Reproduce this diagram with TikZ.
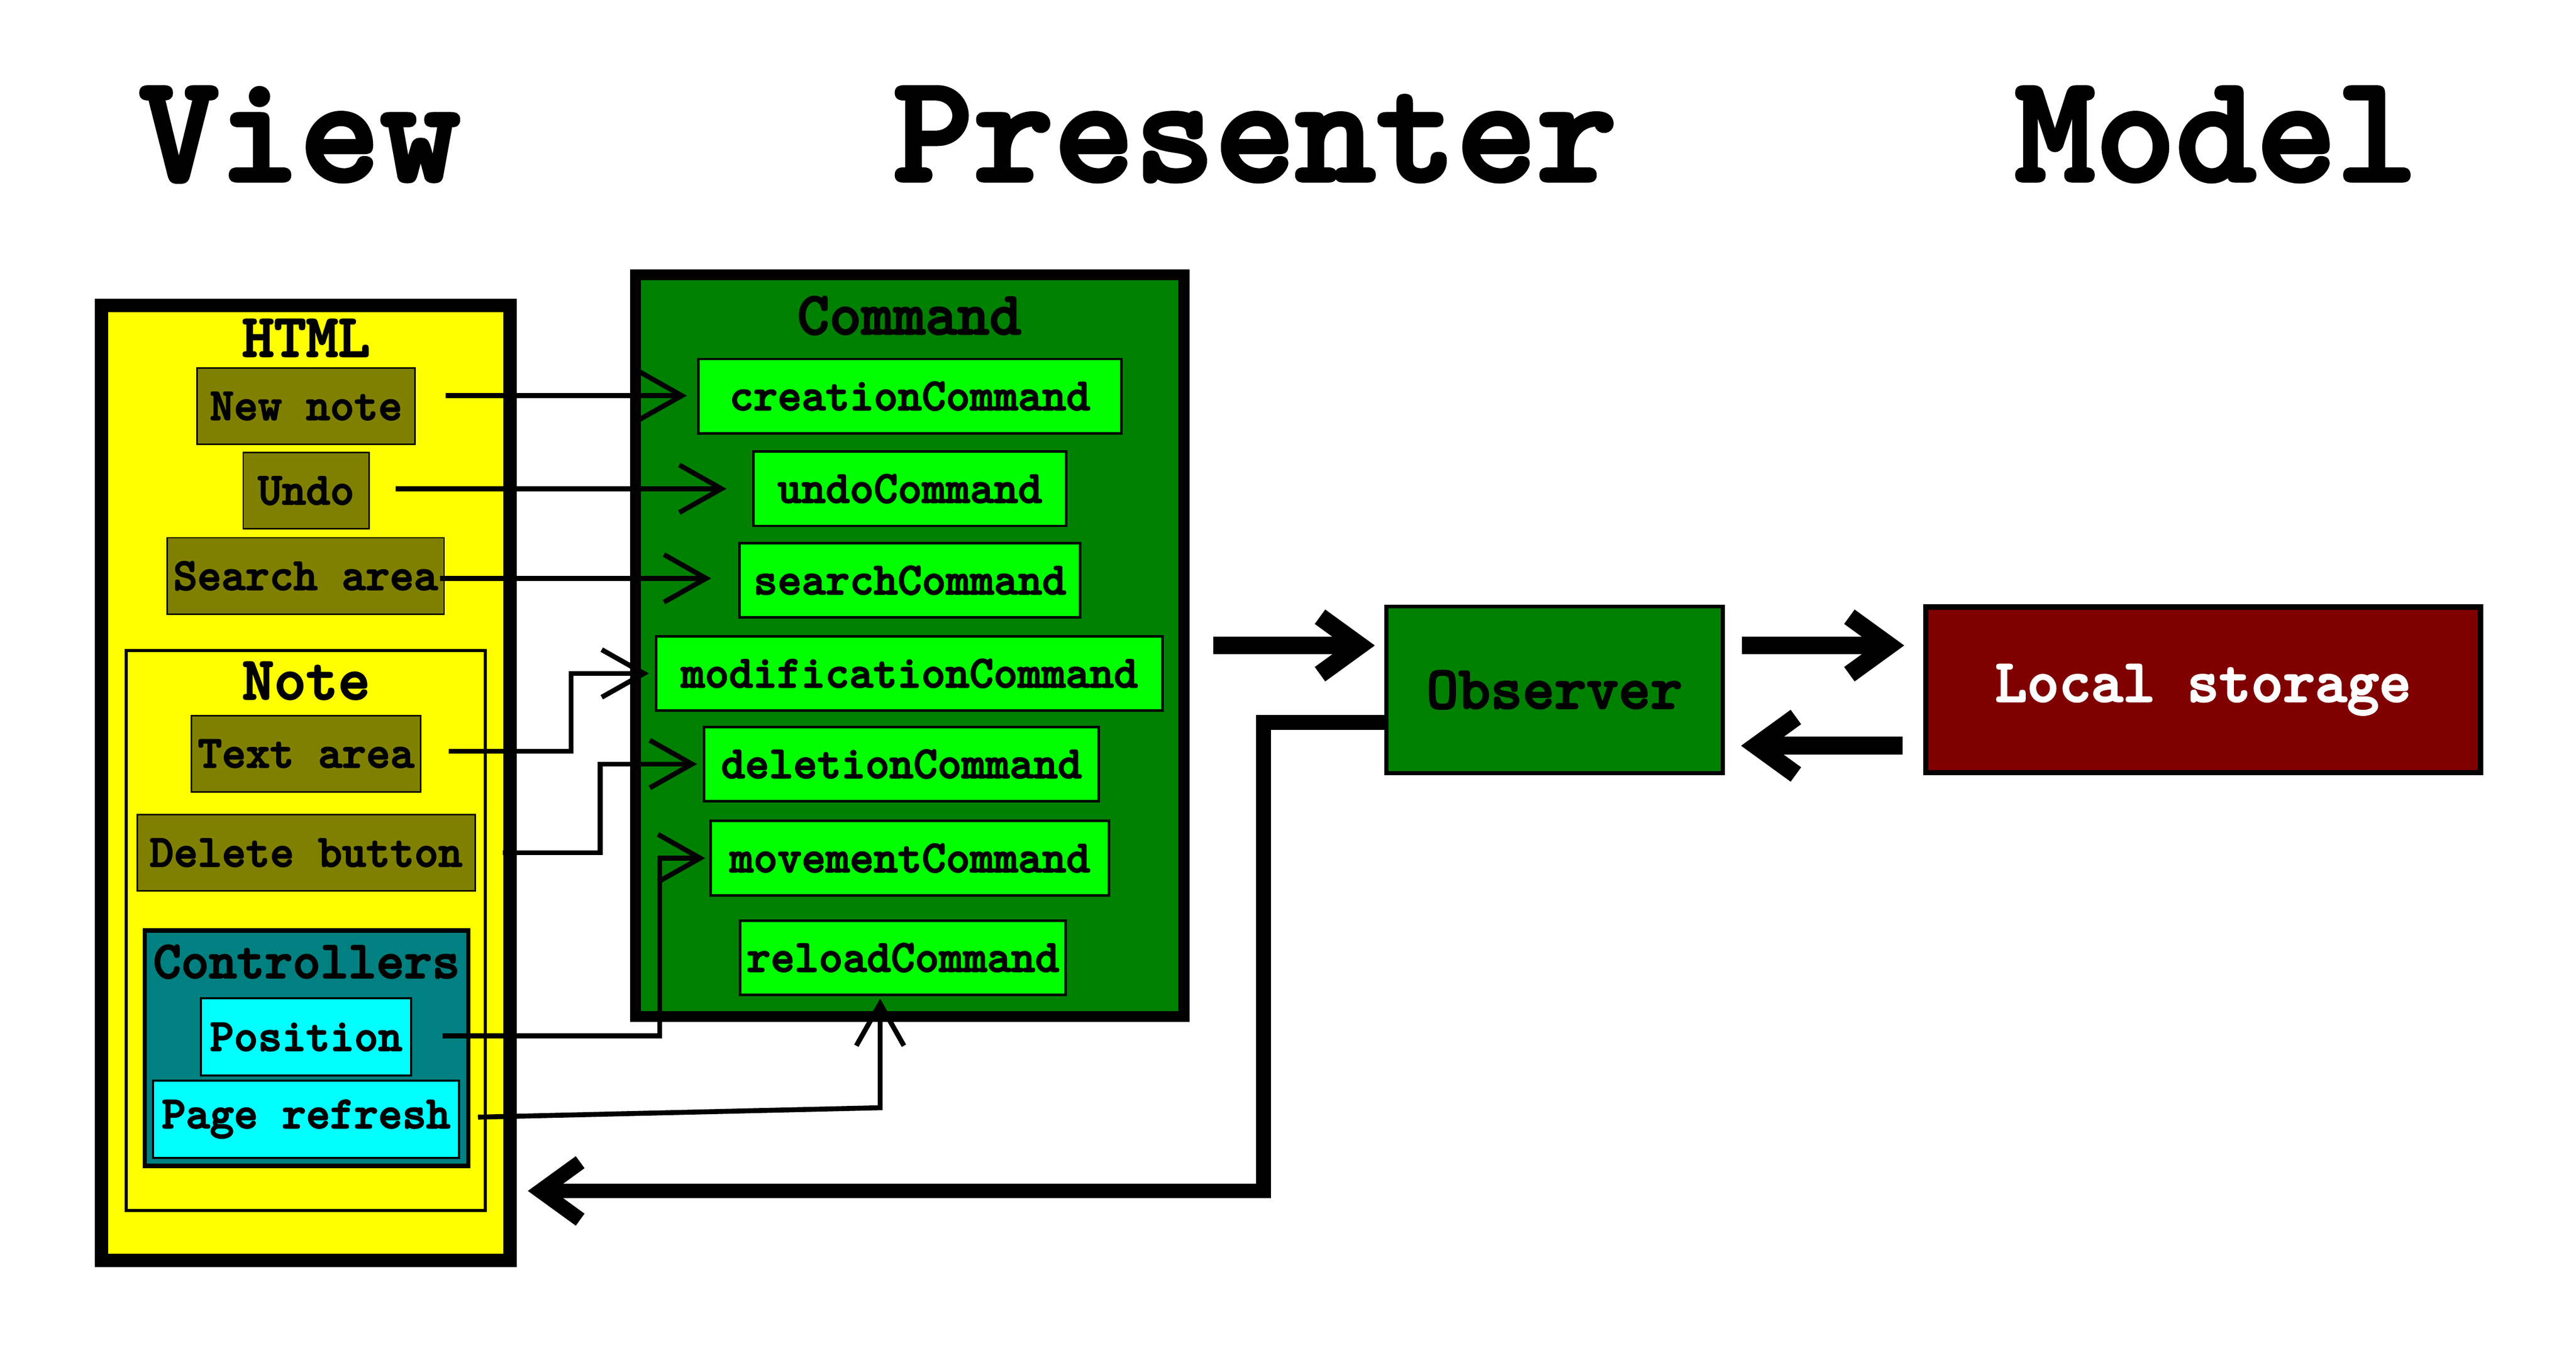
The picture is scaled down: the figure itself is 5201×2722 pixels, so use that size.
\documentclass[tikz,border=0pt]{standalone}
\usepackage{fontspec}
\newfontfamily\diagfont{lmmonolt10-bold.otf}[FakeBold=2.5]
\usetikzlibrary{arrows.meta}
\definecolor{viewyellow}{HTML}{FFFF00}
\definecolor{htmlolive}{HTML}{808000}
\definecolor{cmdgreen}{HTML}{008000}
\definecolor{cmdlime}{HTML}{00FF00}
\definecolor{ctrlteal}{HTML}{008080}
\definecolor{ctrlcyan}{HTML}{00FFFF}
\definecolor{storemaroon}{HTML}{800000}
\tikzset{>={Straight Barb[length=0.85cm,width=0.96cm]},
  title/.style={anchor=base, font=\diagfont\fontsize{88}{100}\selectfont},
  heading/.style={anchor=base, font=\diagfont\fontsize{35}{40}\selectfont},
  item/.style={draw, inner sep=0pt, font=\diagfont\fontsize{26.3}{30}\selectfont},
  viewitem/.style={item, fill=htmlolive, line width=0.03cm, minimum height=1.54cm},
  ctrlitem/.style={item, fill=ctrlcyan, line width=0.04cm, minimum height=1.56cm},
  cmditem/.style={item, fill=cmdlime, line width=0.05cm, minimum height=1.5cm},
  thickarrow/.style={line width=0.36cm, -{Straight Barb[length=0.8cm,width=1.16cm]}}}

\begin{document}
\begin{tikzpicture}[x=0.01cm,y=-0.01cm]
  \useasboundingbox (0,0) rectangle (5201,2722);
  \node[title] (viewtitle) at (605,365) {View};
  \node[title] (prestitle) at (2534,365) {Presenter};
  \node[title] (modeltitle) at (4474,365) {Model};

  % View
  \node[draw, fill=viewyellow, line width=0.27cm, minimum width=8.25cm, minimum height=19.28cm] (view) at (617.5,1581) {};
  \node[heading] (html) at (618,720) {HTML};
  \node[viewitem, minimum width=4.4cm] (newnote) at (618,820) {New note};
  \node[viewitem, minimum width=2.54cm] (undo) at (618,991) {Undo};
  \node[viewitem, minimum width=5.59cm] (searcharea) at (617,1163) {Search area};
  \node[draw, line width=0.06cm, minimum width=7.25cm, minimum height=11.3cm] (note) at (617.5,1879) {};
  \node[heading] (notelabel) at (618,1412) {Note};
  \node[viewitem, minimum width=4.62cm] (textarea) at (618,1522) {Text area};
  \node[viewitem, minimum width=6.82cm] (delete) at (618,1722) {Delete button};
  \node[draw, fill=ctrlteal, line width=0.09cm, minimum width=6.53cm, minimum height=4.75cm] (ctrl) at (619,2117) {};
  \node[heading, font=\diagfont\fontsize{30.5}{35}\selectfont] (ctrllabel) at (619,1975) {Controllers};
  \node[ctrlitem, minimum width=4.24cm] (position) at (618,2094) {Position};
  \node[ctrlitem, minimum width=6.18cm] (refresh) at (618,2260) {Page refresh};

  % Presenter
  \node[draw, fill=cmdgreen, line width=0.22cm, minimum width=11.07cm, minimum height=14.97cm] (command) at (1836.5,1303.5) {};
  \node[heading] (cmdlabel) at (1836,675) {Command};
  \node[cmditem, minimum width=8.53cm] (creation) at (1837,800) {creationCommand};
  \node[cmditem, minimum width=6.31cm] (undocmd) at (1837,987) {undoCommand};
  \node[cmditem, minimum width=6.87cm] (search) at (1837,1172) {searchCommand};
  \node[cmditem, minimum width=10.22cm] (modification) at (1836,1360) {modificationCommand};
  \node[cmditem, minimum width=7.96cm] (deletion) at (1820,1543) {deletionCommand};
  \node[cmditem, minimum width=8.03cm] (movement) at (1837,1733) {movementCommand};
  \node[cmditem, minimum width=6.57cm] (reload) at (1823,1934) {reloadCommand};

  % Model
  \node[draw, fill=cmdgreen, line width=0.08cm, minimum width=6.79cm, minimum height=3.36cm,
    font=\diagfont\fontsize{35}{40}\selectfont] (observer) at (3138.5,1393) {Observer};
  \node[draw, fill=storemaroon, text=white, line width=0.11cm, minimum width=11.19cm, minimum height=3.34cm,
    font=\diagfont\fontsize{35}{40}\selectfont] (storage) at (4448,1393) {Local storage};

  \coordinate (newnoteout) at (900,799);
  \coordinate (undoout) at (799,987);
  \coordinate (searchout) at (888,1168);
  \coordinate (textout) at (906,1517);
  \coordinate (deleteout) at (1015,1722);
  \coordinate (positionout) at (894,2092);
  \coordinate (refreshout) at (965,2256);
  \coordinate (refreshbend) at (1777,2237);
  \begin{scope}[->, line width=0.1cm]
    \draw[shorten >=0.21cm] (newnoteout) -- (newnoteout -| creation.west);
    \draw[shorten >=0.52cm] (undoout) -- (undoout -| undocmd.west);
    \draw[shorten >=0.55cm] (searchout) -- (searchout -| search.west);
    \draw[shorten >=0.12cm] (textout) -- ++(247,0) |- (modification.west);
    \draw[shorten >=0.12cm] (deleteout) -- ++(197,0) |- (deletion.west);
    \draw[shorten >=0.09cm] (positionout) -- ++(438,0) |- (movement.west);
    \draw[shorten >=0.05cm] (refreshout) -- (refreshbend) -- (refreshbend |- reload.south);
  \end{scope}

  \coordinate (backlevel) at (0,1506);
  \coordinate (returnlevel) at (0,1459);
  \coordinate (returncorner) at (2551,2405);
  \draw[thickarrow, shorten <=0.48cm, shorten >=0.19cm] (command.east) -- (observer.west |- command.east);
  \draw[thickarrow, shorten <=0.35cm, shorten >=0.38cm] (observer.east |- command.east) -- (storage.west |- command.east);
  \draw[thickarrow, shorten <=0.41cm, shorten >=0.33cm] (storage.west |- backlevel) -- (observer.east |- backlevel);
  \draw[thickarrow, line width=0.3cm, shorten >=0.22cm] (observer.west |- returnlevel) -| (returncorner) -- (view.east |- returncorner);
\end{tikzpicture}
\end{document}
